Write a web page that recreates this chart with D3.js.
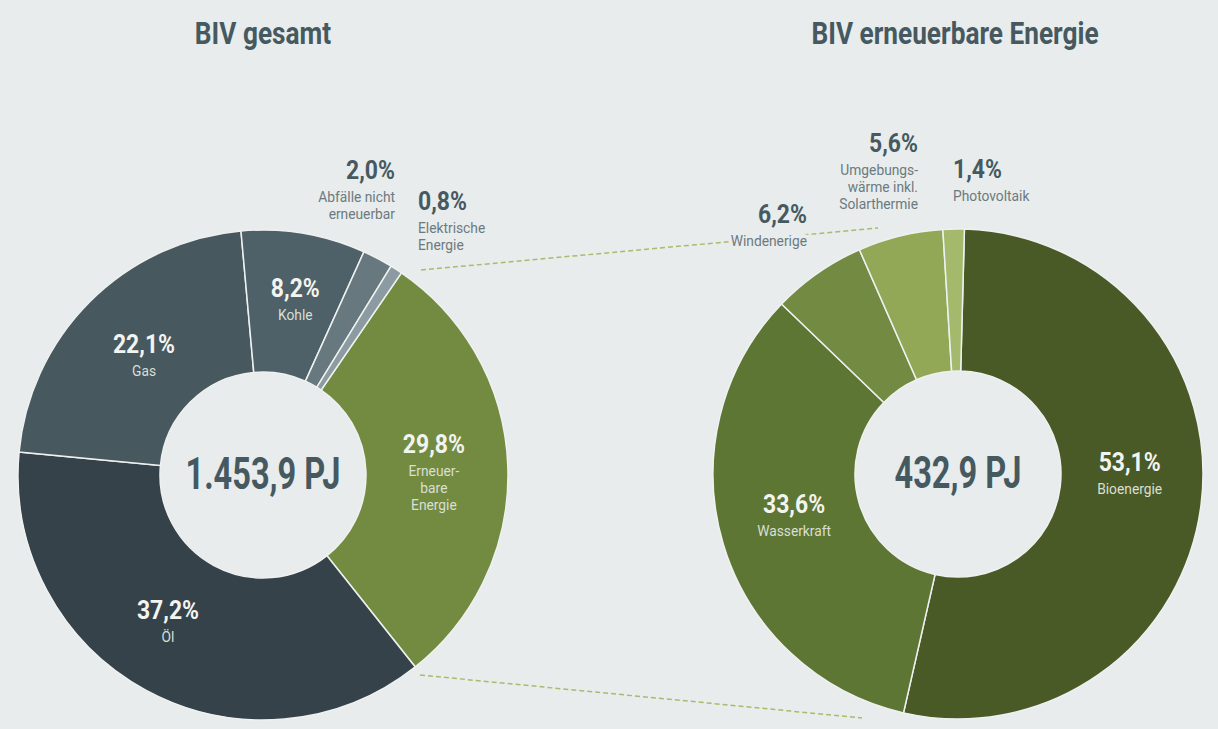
<!DOCTYPE html>
<html>
<head>
<meta charset="utf-8">
<script src="https://cdn.jsdelivr.net/npm/d3@7"></script>
<style>
  html, body { margin: 0; padding: 0; background: #e8ecec; }
  svg { display: block; font-family: Roboto, "Liberation Sans", sans-serif; }
</style>
</head>
<body>
<svg id="chart"></svg>
<script>
// ---- data ----
const titles = ["BIV gesamt", "BIV erneuerbare Energie"];
const totals = ["1.453,9 PJ", "432,9 PJ"];

const gesamtNames = ["Erneuer-\nbare\nEnergie", "Öl", "Gas", "Kohle", "Abfälle nicht\nerneuerbar", "Elektrische\nEnergie"];
const gesamtValues = [29.8, 37.2, 22.1, 8.2, 2.0, 0.8];

const erneuerbarNames = ["Bioenergie", "Wasserkraft", "Windenerige", "Umgebungs-\nwärme inkl.\nSolarthermie", "Photovoltaik"];
const erneuerbarValues = [53.1, 33.6, 6.2, 5.6, 1.4];

// ---- config ----
const config = {
	width: 1218,
	height: 729,
	outer: 245,
	inner: 103,
	labelR: 170,
	bg: "#e8ecec",
	dark: "#465961",
	grey: "#6c7a80",
	left: { cx: 263, cy: 475, start: 34.4,
		colors: ["#738b41", "#35424a", "#47585f", "#4e6068", "#67797f", "#8b9ba1"] },
	right: { cx: 958, cy: 474, start: 1.5,
		colors: ["#4a5a27", "#5e7634", "#728a42", "#93a857", "#a4b96b"] }
};

// text styles (condensed look through horizontal scaling)
const style = {
	title: { size: 32, weight: "bold", sx: 0.82 },
	total: { size: 44, weight: "bold", sx: 0.74 },
	pct:   { size: 25.5, weight: "bold", sx: 0.9 },
	sub:   { size: 15.5, weight: "normal", sx: 0.89 }
};

// inside labels: nudge from centroid; outside labels: offset from pie centre
const leftLabels = [
	{ nx: 1, ny: -16 }, { nx: -14, ny: -5 }, { nx: 1, ny: -2 }, { nx: 4, ny: -10 },
	{ out: true, dx: 132, dy: -296, anchor: "end" },
	{ out: true, dx: 155, dy: -265, anchor: "start" }
];
const rightLabels = [
	{ nx: 3, ny: -24 }, { nx: -1, ny: -10 },
	{ out: true, dx: -151, dy: -251, anchor: "end", halo: true },
	{ out: true, dx: -40, dy: -322, anchor: "end" },
	{ out: true, dx: -5, dy: -296, anchor: "start" }
];

const fmt = v => d3.format(".1f")(v).replace(".", ",") + "%";

const svg = d3.select("#chart")
	.attr("width", config.width)
	.attr("height", config.height);

// Verbindungslinien (gestrichelt)
const lineColor = "#a9bb6e";
const links = [[421, 270, 878, 228], [420, 675, 862, 718]];
svg.selectAll("line.link")
	.data(links)
	.join("line")
	.attr("class", "link")
	.attr("x1", d => d[0]).attr("y1", d => d[1])
	.attr("x2", d => d[2]).attr("y2", d => d[3])
	.attr("stroke", lineColor)
	.attr("stroke-width", 1.5)
	.attr("stroke-dasharray", "5,3");

/**
 * Text mit horizontaler Stauchung ausgeben
 */
function addText(parent, x, y, st, anchor, fill) {
	const g = parent.append("g").attr("transform", `translate(${x},${y}) scale(${st.sx},1)`);
	return g.append("text")
		.attr("text-anchor", anchor)
		.attr("font-size", st.size)
		.attr("font-weight", st.weight)
		.attr("fill", fill);
}

// Titles
titles.forEach((t, i) => {
	const c = i === 0 ? config.left : config.right;
	addText(svg, c.cx - (i === 0 ? 0 : 3), 44, style.title, "middle", config.dark).text(t);
});

drawDonut(config.left, gesamtNames, gesamtValues, leftLabels, totals[0]);
drawDonut(config.right, erneuerbarNames, erneuerbarValues, rightLabels, totals[1]);

function drawDonut(c, names, values, labels, total) {
	const data = names.map((n, i) => ({ name: n, value: values[i], i }));
	const a0 = c.start * Math.PI / 180;
	const pie = d3.pie().sort(null).value(d => d.value).startAngle(a0).endAngle(a0 + 2 * Math.PI);
	const arc = d3.arc().innerRadius(config.inner).outerRadius(config.outer);
	const labelArc = d3.arc().innerRadius(config.labelR).outerRadius(config.labelR);
	const arcs = pie(data);

	const g = svg.append("g").attr("transform", `translate(${c.cx},${c.cy})`);

	g.selectAll("path")
		.data(arcs)
		.join("path")
		.attr("d", arc)
		.attr("fill", d => c.colors[d.data.i])
		.attr("stroke", "#eef1f0")
		.attr("stroke-width", 1.5);

	// Summe in der Mitte
	addText(g, 0, 14, style.total, "middle", config.dark).text(total);

	arcs.forEach((d, i) => {
		const lab = labels[i];
		let x, y, anchor = "middle", pctColor = "#f2f4f0", subColor = "#d8dfd3";
		if (lab.out) {
			x = lab.dx; y = lab.dy; anchor = lab.anchor;
			pctColor = config.dark; subColor = config.grey;
		} else {
			const [px, py] = labelArc.centroid(d);
			x = px + lab.nx; y = py + lab.ny;
		}
		addText(g, x, y, style.pct, anchor, pctColor).text(fmt(d.data.value));
		const sub = addText(g, x, y + 23, style.sub, anchor, subColor);
		if (lab.halo) {
			sub.attr("stroke", config.bg).attr("stroke-width", 8).attr("paint-order", "stroke");
		}
		d.data.name.split("\n").forEach((line, k) => {
			sub.append("tspan")
				.attr("x", 0)
				.attr("dy", k === 0 ? 0 : 16.8)
				.text(line);
		});
	});
}
</script>
</body>
</html>
